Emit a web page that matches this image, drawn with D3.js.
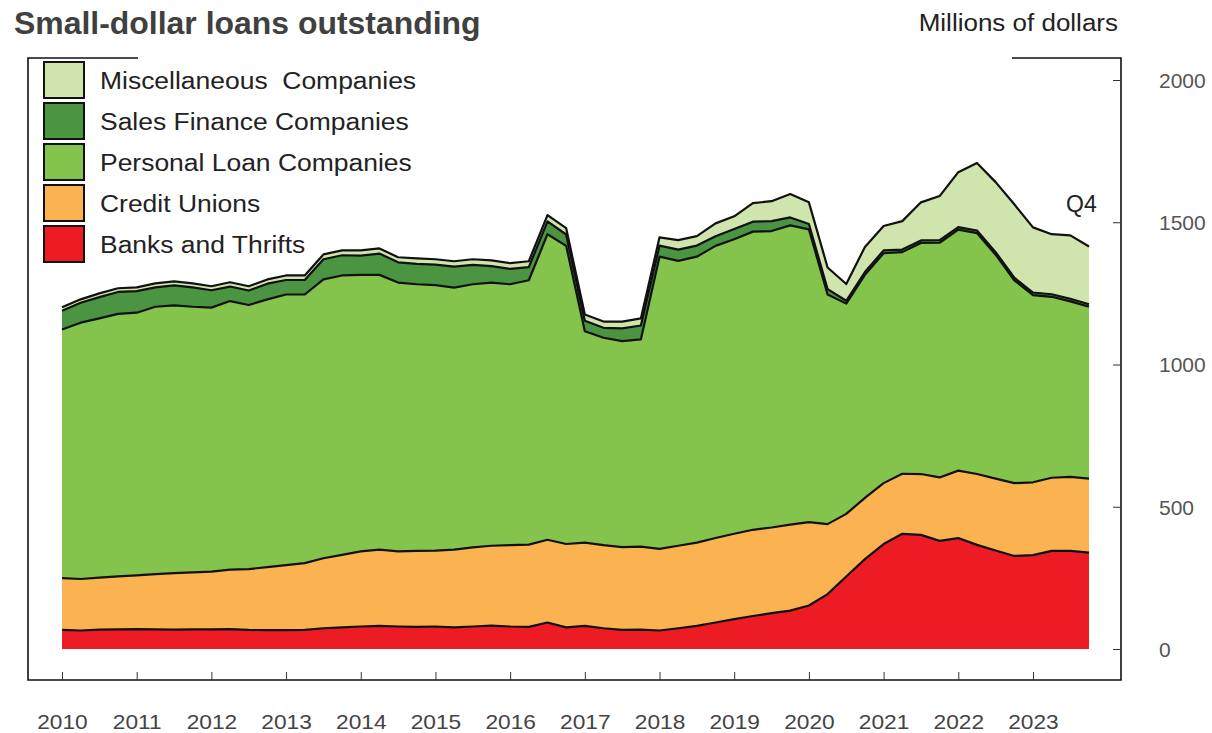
<!DOCTYPE html>
<html>
<head>
<meta charset="utf-8">
<script src="https://cdn.jsdelivr.net/npm/d3@7"></script>
<style>
  html, body { margin: 0; padding: 0; background: #fff; }
  svg { display: block; font-family: "Liberation Sans", Arial, sans-serif; }
</style>
</head>
<body>
<svg id="chart" width="1212" height="733"></svg>
<script>
/* ============================================================
   DATA (quarterly, 2010 Q1 .. 2023 Q4, millions of dollars)
============================================================ */
const years = d3.range(2010, 2024);
const quarters = d3.range(0, 56).map(i => 2010 + i / 4);

const banksThrifts = [
  67, 65, 68, 69, 70, 69, 68, 69, 69, 70, 67, 66, 66, 67,
  73, 76, 79, 81, 79, 78, 79, 76, 79, 82, 79, 78, 93, 76,
  81, 73, 67, 68, 65, 73, 81, 93, 105, 116, 126, 135, 153, 193,
  255, 316, 369, 405, 401, 380, 390, 366, 346, 327, 330, 345, 345, 339
];
const creditUnions = [
  182, 181, 183, 186, 189, 194, 199, 200, 203, 209, 214, 222, 229, 235,
  246, 255, 264, 268, 264, 267, 267, 273, 278, 281, 286, 289, 291, 293,
  293, 292, 291, 292, 287, 290, 293, 297, 300, 303, 301, 302, 293, 246,
  220, 215, 214, 211, 214, 223, 237, 249, 253, 256, 256, 257, 260, 260
];
const personalLoan = [
  874, 901, 911, 923, 923, 940, 941, 934, 928, 944, 928, 941, 951, 944,
  980, 982, 972, 966, 945, 937, 933, 921, 925, 925, 917, 929, 1074, 1048,
  743, 729, 724, 728, 1027, 1001, 1005, 1027, 1035, 1048, 1042, 1052, 1029, 807,
  739, 784, 808, 779, 812, 825, 847, 847, 787, 713, 658, 636, 617, 604
];
const salesFinance = [
  66, 70, 75, 77, 76, 68, 70, 68, 61, 51, 51, 55, 51, 51,
  71, 71, 68, 75, 71, 72, 72, 74, 68, 58, 54, 46, 45, 40,
  37, 35, 45, 49, 39, 40, 39, 34, 36, 35, 35, 28, 19, 19,
  10, 10, 10, 9, 9, 9, 9, 9, 9, 9, 9, 9, 9, 9
];
const miscCompanies = [
  12, 12, 13, 13, 13, 14, 14, 14, 14, 15, 15, 15, 16, 16,
  17, 17, 18, 18, 18, 19, 19, 19, 20, 20, 20, 21, 22, 22,
  22, 22, 24, 25, 29, 33, 33, 45, 45, 65, 70, 82, 76, 76,
  59, 88, 86, 100, 134, 155, 193, 237, 246, 258, 229, 211, 223, 203
];

const seriesNames = ["Banks and Thrifts", "Credit Unions", "Personal Loan Companies",
                     "Sales Finance Companies", "Miscellaneous  Companies"];
const seriesColors = ["#ed1c24", "#fbb351", "#84c44d", "#4a9442", "#d0e5ad"];
const yTicks = [0, 500, 1000, 1500, 2000];

/* ============================================================
   HELPERS
============================================================ */
// the source text is drawn a bit wider than Liberation Sans: stretch it
function stretch(sel, factor) {
  sel.each(function () {
    const w = this.getComputedTextLength();
    d3.select(this)
      .attr("textLength", (w * factor).toFixed(1))
      .attr("lengthAdjust", "spacingAndGlyphs");
  });
}

/* ============================================================
   CHART
============================================================ */
const svg = d3.select("#chart");

const x = d3.scaleLinear().domain([2010, 2023.75]).range([62, 1089]);
const y = d3.scaleLinear().domain([0, 2000]).range([649, 80]);

const rows = quarters.map((q, i) => ({
  q,
  s0: banksThrifts[i], s1: creditUnions[i], s2: personalLoan[i],
  s3: salesFinance[i], s4: miscCompanies[i]
}));
const keys = ["s0", "s1", "s2", "s3", "s4"];
const stacked = d3.stack().keys(keys)(rows);

const area = d3.area()
  .x(d => x(d.data.q))
  .y0(d => y(d[0]))
  .y1(d => y(d[1]));
const topLine = d3.line()
  .x(d => x(d.data.q))
  .y(d => y(d[1]));

svg.append("g").selectAll("path")
  .data(stacked)
  .join("path")
  .attr("d", area)
  .attr("fill", (d, i) => seriesColors[i]);

svg.append("g").selectAll("path")
  .data(stacked)
  .join("path")
  .attr("d", topLine)
  .attr("fill", "none")
  .attr("stroke", "#111")
  .attr("stroke-width", 2.2)
  .attr("stroke-linejoin", "round");

/* frame */
const frame = svg.append("g").attr("stroke", "#111").attr("stroke-width", 1.6).attr("fill", "none");
frame.append("path").attr("d", "M138,58 H28 V680 H1121 V58 H1012");

/* x axis ticks + labels */
const xAxis = d3.axisBottom(x)
  .tickValues(years)
  .tickFormat(d3.format("d"))
  .tickSize(-8)
  .tickPadding(0);
const gx = svg.append("g").attr("transform", "translate(0,680)").call(xAxis);
gx.select(".domain").remove();
gx.selectAll(".tick line").attr("stroke", "#333").attr("stroke-width", 1);
gx.selectAll(".tick text")
  .attr("y", 49)
  .attr("dy", 0)
  .attr("fill", "#444")
  .style("font-size", "21px")
  .style("font-family", "'Liberation Sans', Arial, sans-serif")
  .call(stretch, 1.08);

/* y axis on right */
const yAxis = d3.axisLeft(y)
  .tickValues(yTicks)
  .tickSize(8)
  .tickFormat(d3.format("d"));
const gy = svg.append("g").attr("transform", "translate(1121,0)").call(yAxis);
gy.select(".domain").remove();
gy.selectAll(".tick line").attr("stroke", "#333").attr("stroke-width", 1);
gy.selectAll(".tick text")
  .attr("x", 38)
  .attr("dy", "0.35em")
  .attr("text-anchor", "start")
  .attr("fill", "#555")
  .style("font-size", "21px")
  .style("font-family", "'Liberation Sans', Arial, sans-serif");

/* titles */
svg.append("text")
  .attr("x", 14).attr("y", 34)
  .attr("fill", "#404040")
  .style("font-size", "31px").style("font-weight", "bold")
  .text("Small-dollar loans outstanding")
  .call(stretch, 1.03);

svg.append("text")
  .attr("x", 1118).attr("y", 31)
  .attr("text-anchor", "end")
  .attr("fill", "#222")
  .style("font-size", "23px")
  .text("Millions of dollars")
  .call(stretch, 1.13);

svg.append("text")
  .attr("x", 1066).attr("y", 212)
  .attr("fill", "#222")
  .style("font-size", "23px")
  .text("Q4");

/* legend (top entry = last series) */
const legendOrder = [4, 3, 2, 1, 0];
const legend = svg.append("g");
legendOrder.forEach((si, r) => {
  const top = 62 + r * 41;
  legend.append("rect")
    .attr("x", 44).attr("y", top)
    .attr("width", 40).attr("height", 36)
    .attr("fill", seriesColors[si])
    .attr("stroke", "#111").attr("stroke-width", 2);
  legend.append("text")
    .attr("x", 100).attr("y", top + 27)
    .attr("fill", "#222")
    .style("font-size", "23px")
    .style("white-space", "pre")
    .text(seriesNames[si])
    .call(stretch, 1.15);
});
</script>
</body>
</html>
